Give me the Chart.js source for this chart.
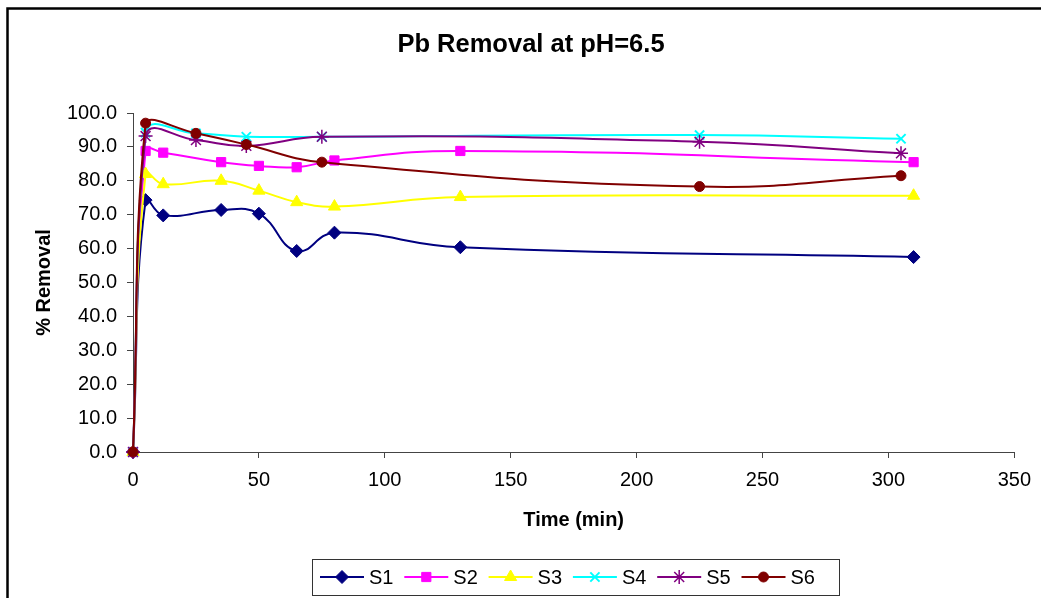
<!DOCTYPE html>
<html>
<head>
<meta charset="utf-8">
<title>Pb Removal at pH=6.5</title>
<script src="https://cdn.jsdelivr.net/npm/chart.js@4/dist/chart.umd.min.js"></script>
<style>
    html, body { margin: 0; padding: 0; background: #fff; }
    canvas { display: block; }
</style>
</head>
<body>
<canvas id="plot-01" width="1041" height="598"></canvas>
<script>
// sampling times (min)
const timesA = [0, 5, 12, 35, 50, 65, 80, 130, 310];   // S1 - S3
const timesB = [0, 5, 25, 45, 75, 225, 305];           // S4 - S6

// % removal
const s1 = [0, 74.3, 69.8, 71.4, 70.3, 59.3, 64.7, 60.4, 57.5];
const s2 = [0, 88.8, 88.3, 85.5, 84.4, 84.0, 86.0, 88.8, 85.5];
const s3 = [0, 82.0, 79.0, 80.0, 77.1, 73.7, 72.4, 75.2, 75.6];
const s4 = [0, 94.2, 94.0, 93.0, 93.0, 93.5, 92.4];
const s5 = [0, 93.2, 92.0, 90.3, 93.0, 91.5, 88.1];
const s6 = [0, 97.0, 94.0, 90.7, 85.5, 78.3, 81.5];

const seriesNames = ['S1', 'S2', 'S3', 'S4', 'S5', 'S6'];
const xTicks = { min: 0, max: 350, step: 50 };
const yTicks = { min: 0, max: 100, step: 10 };

const FONT = '"Liberation Sans", Arial, sans-serif';

function pts(xs, ys) {
    return xs.map((x, i) => ({ x: x, y: ys[i] }));
}

function series(i, xs, ys, color, style, radius, bw) {
    return {
        label: seriesNames[i],
        data: pts(xs, ys),
        borderColor: color,
        backgroundColor: color,
        pointBackgroundColor: color,
        pointBorderColor: color,
        pointStyle: style,
        pointRadius: radius,
        pointHoverRadius: radius,
        pointBorderWidth: bw,
        borderWidth: 2,
        tension: 0.45,
        fill: false,
        clip: false,
        order: 5 - i
    };
}

// frame, title and the boxed legend at the bottom
const decor = {
    id: 'decor',
    afterDraw(chart) {
        const ctx = chart.ctx;
        ctx.save();
        ctx.strokeStyle = '#000';
        ctx.lineWidth = 2.5;
        ctx.strokeRect(7.5, 8.5, 1100, 700);

        ctx.fillStyle = '#000';
        ctx.font = 'bold 25.5px ' + FONT;
        ctx.textAlign = 'center';
        ctx.textBaseline = 'middle';
        ctx.fillText('Pb Removal at pH=6.5', 531, 45);

        ctx.lineWidth = 1;
        ctx.strokeStyle = '#333';
        ctx.strokeRect(312.5, 559.5, 527, 36);

        ctx.font = '20px ' + FONT;
        ctx.textAlign = 'left';
        chart.data.datasets.forEach((ds, i) => {
            const x0 = 320 + i * 84.3;
            const y = 577;
            ctx.strokeStyle = ds.borderColor;
            ctx.lineWidth = 2;
            ctx.beginPath();
            ctx.moveTo(x0, y);
            ctx.lineTo(x0 + 44, y);
            ctx.stroke();
            ctx.fillStyle = ds.pointBackgroundColor;
            ctx.strokeStyle = ds.pointBorderColor;
            ctx.lineWidth = ds.pointBorderWidth;
            Chart.helpers.drawPoint(ctx, {
                pointStyle: ds.pointStyle,
                radius: ds.pointRadius,
                rotation: 0,
                borderWidth: ds.pointBorderWidth
            }, x0 + 22, y);
            ctx.fillStyle = '#000';
            ctx.fillText(ds.label, x0 + 49, y + 1);
        });
        ctx.restore();
    }
};

function plot01() {
    const data = {
        datasets: [
            series(0, timesA, s1, '#000080', 'rectRot', 6.5, 1),
            series(1, timesA, s2, '#FF00FF', 'rect', 6.5, 1),
            series(2, timesA, s3, '#FFFF00', 'triangle', 7, 1),
            series(3, timesB, s4, '#00FFFF', 'crossRot', 6.5, 2),
            series(4, timesB, s5, '#800080', 'star', 7, 1.5),
            series(5, timesB, s6, '#800000', 'circle', 5, 1)
        ]
    };

    const config = {
        type: 'line',
        data: data,
        options: {
            responsive: false,
            animation: false,
            devicePixelRatio: 1,
            layout: {
                padding: { left: 0, top: 113, right: 23, bottom: 66 }
            },
            plugins: {
                legend: { display: false },
                title: { display: false },
                tooltip: { enabled: false }
            },
            scales: {
                x: {
                    type: 'linear',
                    min: xTicks.min,
                    max: xTicks.max,
                    afterFit: (scale) => { scale.height = 80; },
                    ticks: {
                        stepSize: xTicks.step,
                        color: '#000',
                        padding: 10,
                        maxRotation: 0,
                        font: { family: FONT, size: 20 }
                    },
                    grid: {
                        drawOnChartArea: false,
                        drawTicks: true,
                        tickLength: 6,
                        color: '#444'
                    },
                    border: { display: true, color: '#444', width: 1 },
                    title: {
                        display: true,
                        text: 'Time (min)',
                        color: '#000',
                        padding: { top: 0, bottom: 0 },
                        font: { family: FONT, size: 20, weight: 'bold' }
                    }
                },
                y: {
                    min: yTicks.min,
                    max: yTicks.max,
                    afterFit: (scale) => { scale.width = 133; },
                    ticks: {
                        stepSize: yTicks.step,
                        color: '#000',
                        padding: 10,
                        callback: (v) => Number(v).toFixed(1),
                        font: { family: FONT, size: 20 }
                    },
                    grid: {
                        drawOnChartArea: false,
                        drawTicks: true,
                        tickLength: 6,
                        color: '#444'
                    },
                    border: { display: true, color: '#444', width: 1 },
                    title: {
                        display: true,
                        text: '% Removal',
                        color: '#000',
                        padding: { top: 32, bottom: 0 },
                        font: { family: FONT, size: 20, weight: 'bold' }
                    }
                }
            }
        },
        plugins: [decor]
    };

    new Chart(document.getElementById('plot-01').getContext('2d'), config);
}

plot01();
</script>
</body>
</html>
